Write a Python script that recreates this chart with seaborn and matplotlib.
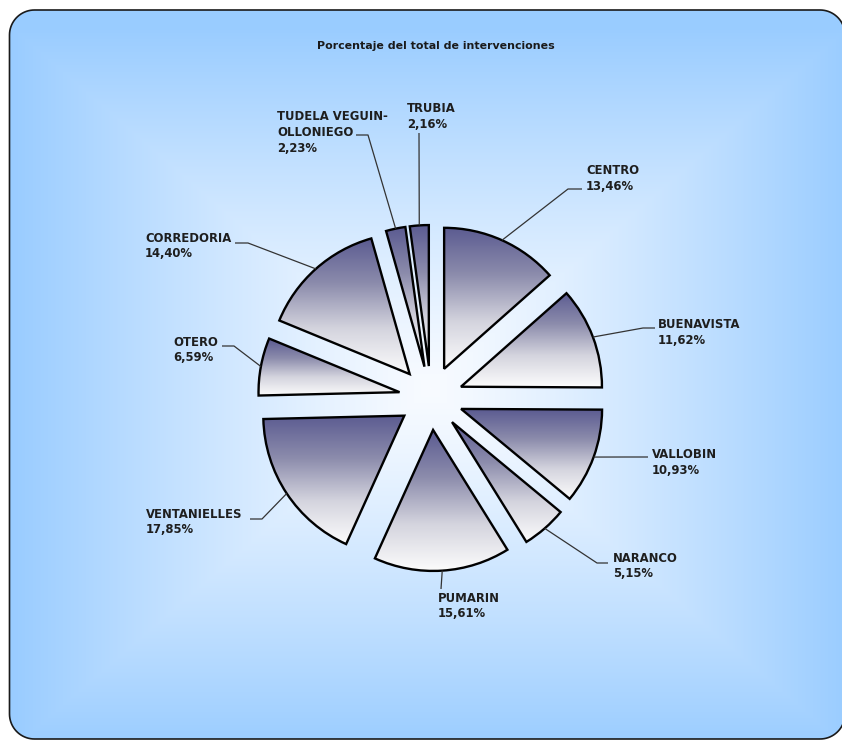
import numpy as np
import matplotlib.pyplot as plt
import matplotlib.patches as mpatches
import seaborn as sns

# Datos del grafico
barrios = ['CENTRO', 'BUENAVISTA', 'VALLOBIN', 'NARANCO', 'PUMARIN',
           'VENTANIELLES', 'OTERO', 'CORREDORIA', 'TUDELA VEGUIN-\nOLLONIEGO', 'TRUBIA']
porcentajes = [13.46, 11.62, 10.93, 5.15, 15.61, 17.85, 6.59, 14.40, 2.23, 2.16]
titulo = 'Porcentaje del total de intervenciones'

# Posiciones de las etiquetas en pixeles (x izq, centro de la primera linea)
pos_etiquetas = [(586, 171), (658, 325), (652, 455), (613, 558), (438, 598),
                 (146, 514), (173, 342), (145, 238), (277, 117), (407, 109)]
# Puntos del conector (codo, final) en pixeles
conectores = [[(568, 189), (582, 189)],
              [(643, 328), (655, 328)],
              [(627, 457), (648, 457)],
              [(597, 563), (608, 563)],
              [(441, 589)],
              [(262, 519), (250, 519)],
              [(234, 346), (222, 346)],
              [(248, 243), (235, 243)],
              [(368, 135), (356, 135)],
              [(419, 133)]]

W, H = 842, 740
CX, CY, R = 431, 398, 141  # centro y radio de la tarta en px


def P(px, py):
    # pixel -> coordenadas de datos (radio de la tarta = 1)
    return (px - CX) / R, (CY - py) / R


sns.set_theme(style='white')
plt.rcParams['font.family'] = ['DejaVu Sans']

fig = plt.figure(figsize=(W / 100, H / 100), dpi=100)
ax = fig.add_axes([0, 0, 1, 1])

x0, y1 = P(0, 0)
x1, y0 = P(W, H)

# fondo: rectangulo redondeado con degradado
yy, xx = np.mgrid[0:H, 0:W]
t = np.maximum(np.abs(xx - 430) / 420, np.abs(yy - 388) / 362)
f = np.clip(t, 0, 1) ** 1.2
claro = np.array([248, 251, 255]) / 255
azul = np.array([153, 204, 255]) / 255
fondo = claro + (azul - claro) * f[..., None]

xl, yt = P(9.5, 10)
xr, yb = P(845, 739)
rr = 25 / R
a = np.linspace(0, np.pi / 2, 20)
esquinas = [(xr - rr, yb + rr, -np.pi / 2), (xr - rr, yt - rr, 0),
            (xl + rr, yt - rr, np.pi / 2), (xl + rr, yb + rr, np.pi)]
verts = np.vstack([np.column_stack([ex + rr * np.cos(a + a0), ey + rr * np.sin(a + a0)])
                   for ex, ey, a0 in esquinas])
caja = mpatches.Polygon(verts, closed=True, facecolor='none', edgecolor='#1a1a1a',
                        linewidth=1.2, zorder=1)
ax.add_patch(caja)
ax.imshow(fondo, extent=[x0, x1, y0, y1], origin='upper', aspect='auto',
          zorder=0, clip_path=caja)

# tarta
wedges, _ = ax.pie(porcentajes, startangle=90, counterclock=False, radius=1,
                   explode=[32 / R] * len(porcentajes),
                   wedgeprops=dict(facecolor='none', edgecolor='black', linewidth=1.7, zorder=3))

cmap = sns.blend_palette(['#5b5b91', '#8c8cac', '#d4d4de', '#fcfcfc'], as_cmap=True)
grad = np.linspace(0, 1, 256)[:, None]
for w in wedges:
    ext = w.get_path().get_extents()
    ax.imshow(grad, extent=[ext.x0, ext.x1, ext.y0, ext.y1], origin='upper',
              cmap=cmap, aspect='auto', zorder=2, clip_path=w, interpolation='bilinear')

# etiquetas y conectores
for w, nombre, v, (lx, ly), con in zip(wedges, barrios, porcentajes, pos_etiquetas, conectores):
    lineas = nombre.split('\n') + [f'{v:.2f}'.replace('.', ',') + '%']
    for k, linea in enumerate(lineas):
        ax.text(*P(lx, ly + k * 15.5), linea, ha='left', va='center',
                fontsize=8.4, fontweight='bold', color='#1e1e1e', zorder=5)
    th = np.deg2rad((w.theta1 + w.theta2) / 2)
    inicio = (w.center[0] + w.r * np.cos(th), w.center[1] + w.r * np.sin(th))
    pts = [inicio] + [P(*q) for q in con]
    ax.plot([p[0] for p in pts], [p[1] for p in pts], color='#333333',
            linewidth=0.9, zorder=4, solid_capstyle='butt')

ax.text(*P(436, 46), titulo, ha='center', va='center', fontsize=7.9,
        fontweight='bold', color='#1a1a1a', zorder=5)

ax.set_xlim(x0, x1)
ax.set_ylim(y0, y1)
ax.set_aspect('auto')
ax.axis('off')

fig.savefig('out.png', dpi=100, facecolor='white')
